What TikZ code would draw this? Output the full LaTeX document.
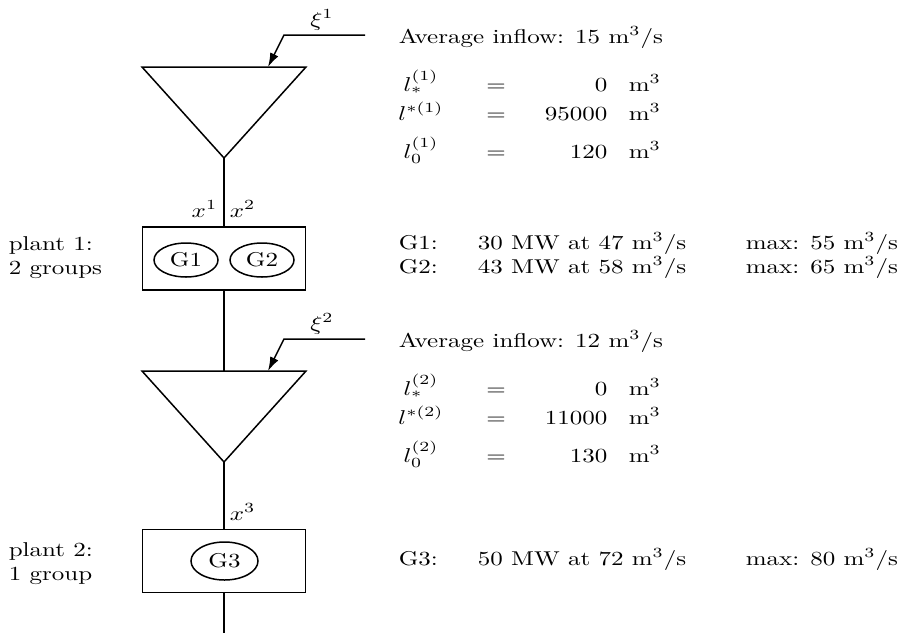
\documentclass[tikz,border=0pt]{standalone}
\usetikzlibrary{arrows.meta,shapes.geometric}
\newcommand\hstretch[1]{\scalebox{1.25}[1]{#1}}
\begin{document}
\begin{tikzpicture}[x=0.5pt,y=-0.5pt,line width=0.75pt,
  plantbox/.style={draw,rectangle,minimum width=81.5pt,minimum height=31.5pt,inner sep=0pt},
  gen/.style={draw,ellipse,minimum width=32pt,minimum height=17pt,inner sep=0pt},
  gen3/.style={draw,ellipse,minimum width=33.5pt,minimum height=19pt,inner sep=0pt},
  lbl/.style={anchor=base west,inner sep=0pt},
  lblc/.style={anchor=base,inner sep=0pt},
  lblr/.style={anchor=base east,inner sep=0pt},
  inflow/.style={-{Latex[length=7pt,width=4.5pt]}}]
\useasboundingbox (0,0) rectangle (900,633);

% ---------- reservoir 1
\coordinate (r1l) at (142,67);
\coordinate (r1r) at (306,67);
\coordinate (r1b) at (224,158);
\draw (r1l) -- (r1r) -- (r1b) -- cycle;
\coordinate (xi1s) at (365,35);
\coordinate (xi1k) at (284,35);
\coordinate (xi1e) at (268,67);
\draw[inflow] (xi1s) -- (xi1k) -- (xi1e);
\node[lblc] (xi1) at (322,26) {\hstretch{$\xi^1$}};

% ---------- plant 1
\node[plantbox] (p1) at (224,258.5) {};
\node[gen] (g1) at (186,260) {\hstretch{G1}};
\node[gen] (g2) at (262,260) {\hstretch{G2}};
\draw (r1b) -- (p1.north);
\node[lblr] (x1) at (218,217) {\hstretch{$x^1$}};
\node[lbl] (x2) at (229,217) {\hstretch{$x^2$}};
\node[lbl] (pl1a) at (8,250) {\hstretch{plant 1:}};
\node[lbl] (pl1b) at (8,274) {\hstretch{2 groups}};

% ---------- reservoir 2
\coordinate (r2l) at (142,371);
\coordinate (r2r) at (306,371);
\coordinate (r2b) at (224,462);
\coordinate (r2t) at (224,371);
\draw (r2l) -- (r2r) -- (r2b) -- cycle;
\draw (p1.south) -- (r2t);
\coordinate (xi2s) at (365,339);
\coordinate (xi2k) at (284,339);
\coordinate (xi2e) at (268,371);
\draw[inflow] (xi2s) -- (xi2k) -- (xi2e);
\node[lblc] (xi2) at (322,330) {\hstretch{$\xi^2$}};

% ---------- plant 2
\node[plantbox] (p2) at (224,561) {};
\node[gen3] (g3) at (224.5,561) {\hstretch{G3}};
\draw (r2b) -- (p2.north);
\coordinate (out) at (224,633);
\draw (p2.south) -- (out);
\node[lbl] (x3) at (229,520) {\hstretch{$x^3$}};
\node[lbl] (pl2a) at (8,556) {\hstretch{plant 2:}};
\node[lbl] (pl2b) at (8,580) {\hstretch{1 group}};

% ---------- data, reservoir 1
\node[lbl] (av1) at (398,43) {\hstretch{Average inflow: 15 m$^3$/s}};
\node[lblc] (a1) at (421,91) {\hstretch{$l_*^{(1)}$}};
\node[lblc] (b1) at (496,91) {\hstretch{$=$}};
\node[lblr] (c1) at (608,91) {\hstretch{0}};
\node[lbl] (d1) at (628,91) {\hstretch{m$^3$}};
\node[lblc] (a2) at (421,120) {\hstretch{$l^{*(1)}$}};
\node[lblc] (b2) at (496,120) {\hstretch{$=$}};
\node[lblr] (c2) at (608,120) {\hstretch{95000}};
\node[lbl] (d2) at (628,120) {\hstretch{m$^3$}};
\node[lblc] (a3) at (421,158) {\hstretch{$l_0^{(1)}$}};
\node[lblc] (b3) at (496,158) {\hstretch{$=$}};
\node[lblr] (c3) at (608,158) {\hstretch{120}};
\node[lbl] (d3) at (628,158) {\hstretch{m$^3$}};

% ---------- generators, plant 1
\node[lbl] (gl1) at (398,249) {\hstretch{G1:}};
\node[lbl] (gp1) at (477,249) {\hstretch{30 MW at 47 m$^3$/s}};
\node[lbl] (gm1) at (745,249) {\hstretch{max: 55 m$^3$/s}};
\node[lbl] (gl2) at (398,273) {\hstretch{G2:}};
\node[lbl] (gp2) at (477,273) {\hstretch{43 MW at 58 m$^3$/s}};
\node[lbl] (gm2) at (745,273) {\hstretch{max: 65 m$^3$/s}};

% ---------- data, reservoir 2
\node[lbl] (av2) at (398,347) {\hstretch{Average inflow: 12 m$^3$/s}};
\node[lblc] (e1) at (421,395) {\hstretch{$l_*^{(2)}$}};
\node[lblc] (f1) at (496,395) {\hstretch{$=$}};
\node[lblr] (h1) at (608,395) {\hstretch{0}};
\node[lbl] (k1) at (628,395) {\hstretch{m$^3$}};
\node[lblc] (e2) at (421,424) {\hstretch{$l^{*(2)}$}};
\node[lblc] (f2) at (496,424) {\hstretch{$=$}};
\node[lblr] (h2) at (608,424) {\hstretch{11000}};
\node[lbl] (k2) at (628,424) {\hstretch{m$^3$}};
\node[lblc] (e3) at (421,462) {\hstretch{$l_0^{(2)}$}};
\node[lblc] (f3) at (496,462) {\hstretch{$=$}};
\node[lblr] (h3) at (608,462) {\hstretch{130}};
\node[lbl] (k3) at (628,462) {\hstretch{m$^3$}};

% ---------- generator, plant 2
\node[lbl] (gl3) at (398,565) {\hstretch{G3:}};
\node[lbl] (gp3) at (477,565) {\hstretch{50 MW at 72 m$^3$/s}};
\node[lbl] (gm3) at (745,565) {\hstretch{max: 80 m$^3$/s}};
\end{tikzpicture}
\end{document}
